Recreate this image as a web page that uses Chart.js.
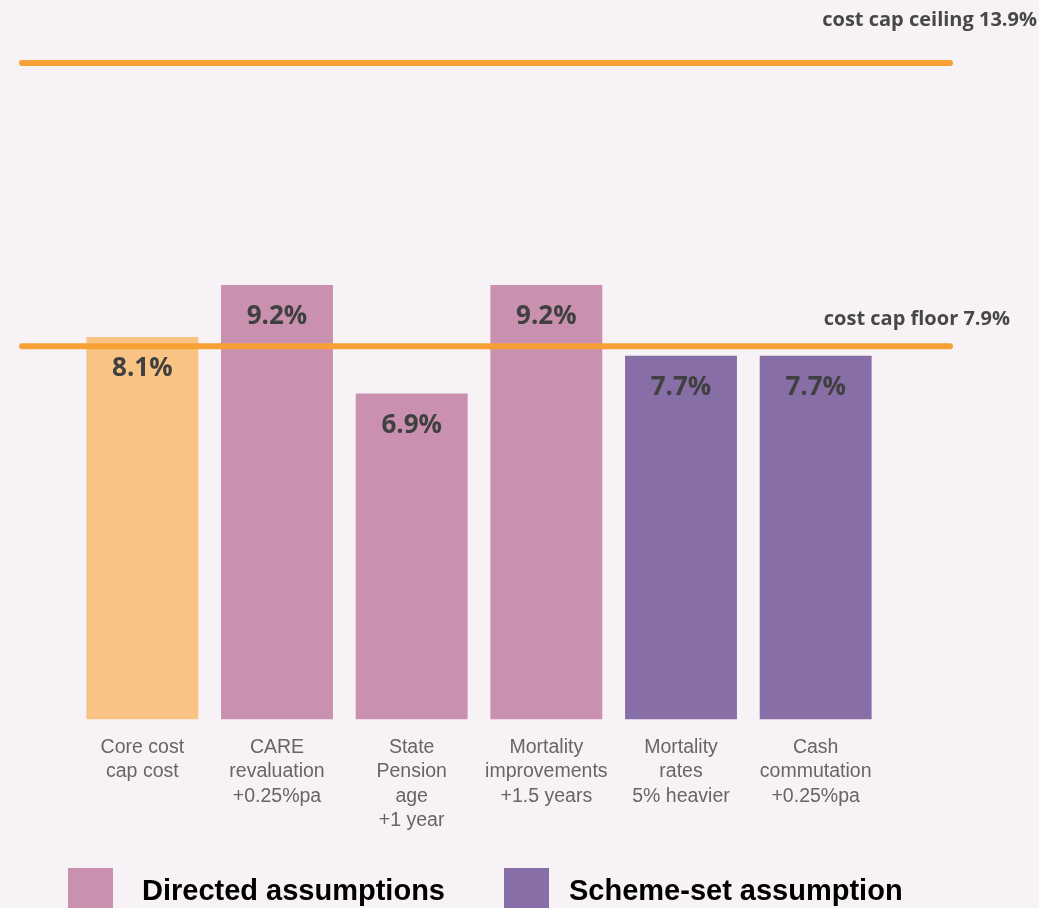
<!DOCTYPE html>
<html>
<head>
<meta charset="utf-8">
<script src="https://cdn.jsdelivr.net/npm/chart.js@4.4.1/dist/chart.umd.min.js"></script>
<style>
  html, body { margin: 0; padding: 0; background: #f7f2f6; overflow: hidden; }
  #wrap { width: 1039px; height: 908px; position: relative; }
</style>
</head>
<body>
<div id="wrap"><canvas id="myChart"></canvas></div>
<script>
// data
const categories = [
  ['Core cost', 'cap cost'],
  ['CARE', 'revaluation', '+0.25%pa'],
  ['State', 'Pension', 'age', '+1 year'],
  ['Mortality', 'improvements', '+1.5 years'],
  ['Mortality', 'rates', '5% heavier'],
  ['Cash', 'commutation', '+0.25%pa']
];
const costValues = [8.1, 9.2, 6.9, 9.2, 7.7, 7.7];
const barGroups = ['core', 'directed', 'directed', 'directed', 'scheme', 'scheme'];
const capLabels = ['cost cap ceiling 13.9%', 'cost cap floor 7.9%'];
const capValues = [13.9, 7.9];
const legendLabels = ['Directed assumptions', 'Scheme-set assumption'];

const groupColors = { core: '#f8c383', directed: '#c990b0', scheme: '#886ea6' };
const lineColor = '#f7a035';

// lignes plafond / plancher
const capLines = {
  id: 'capLines',
  afterDatasetsDraw(chart) {
    const { ctx, chartArea, scales } = chart;
    const labelX = [1037, 1010];
    const labelOff = [43, 27];
    ctx.save();
    capValues.forEach((v, i) => {
      const y = scales.y.getPixelForValue(v);
      ctx.strokeStyle = lineColor;
      ctx.lineWidth = 6;
      ctx.lineCap = 'round';
      ctx.beginPath();
      ctx.moveTo(chartArea.left - 53, y);
      ctx.lineTo(chartArea.right + 67, y);
      ctx.stroke();
      ctx.fillStyle = '#474747';
      ctx.font = 'bold 20px "Open Sans"';
      ctx.textAlign = 'right';
      ctx.textBaseline = 'middle';
      ctx.fillText(capLabels[i], labelX[i], y - labelOff[i]);
    });
    ctx.restore();
  }
};

// etiquettes des barres
const barLabels = {
  id: 'barLabels',
  afterDraw(chart) {
    const { ctx } = chart;
    const meta = chart.getDatasetMeta(0);
    ctx.save();
    ctx.fillStyle = '#404040';
    ctx.font = 'bold 26px "Open Sans"';
    ctx.textAlign = 'center';
    ctx.textBaseline = 'middle';
    meta.data.forEach((bar, i) => {
      ctx.fillText(costValues[i].toFixed(1) + '%', bar.x, bar.y + 32);
    });
    ctx.restore();
  }
};

// leyenda
const bigLegend = {
  id: 'bigLegend',
  afterDraw(chart) {
    const { ctx } = chart;
    const boxX = [68, 504];
    const textX = [142, 569];
    const colors = [groupColors.directed, groupColors.scheme];
    ctx.save();
    legendLabels.forEach((t, i) => {
      ctx.fillStyle = colors[i];
      ctx.fillRect(boxX[i], 868, 45, 45);
      ctx.fillStyle = '#000';
      ctx.font = 'bold 29px "Liberation Sans", Arial';
      ctx.textAlign = 'left';
      ctx.textBaseline = 'alphabetic';
      ctx.fillText(t, textX[i], 900);
    });
    ctx.restore();
  }
};

const ctx = document.getElementById('myChart').getContext('2d');
const myChart = new Chart(ctx, {
  type: 'bar',
  data: {
    labels: categories,
    datasets: [{
      data: costValues,
      backgroundColor: barGroups.map(g => groupColors[g]),
      borderWidth: 0,
      barPercentage: 0.831,
      categoryPercentage: 1
    }]
  },
  options: {
    responsive: true,
    maintainAspectRatio: false,
    animation: false,
    layout: { padding: { left: 75, right: 156, top: 11, bottom: 67 } },
    plugins: {
      legend: { display: false },
      tooltip: { enabled: false }
    },
    scales: {
      y: { display: false, min: 0, max: 15 },
      x: {
        grid: { display: false },
        border: { display: false },
        ticks: {
          autoSkip: false,
          maxRotation: 0,
          padding: 8,
          color: '#666666',
          font: { family: '"Liberation Sans", Arial', size: 19.5, lineHeight: 1.25 }
        }
      }
    }
  },
  plugins: [capLines, barLabels, bigLegend]
});
</script>
</body>
</html>
